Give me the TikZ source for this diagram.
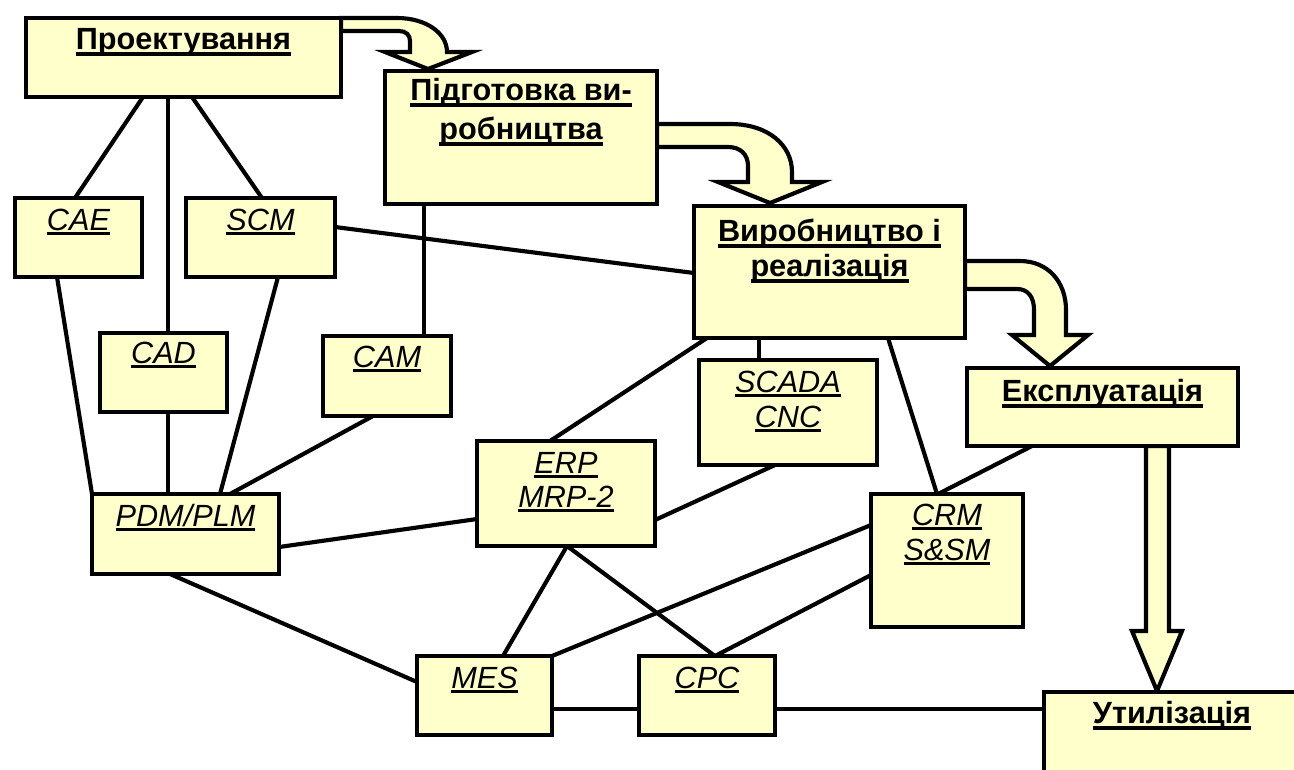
\documentclass[tikz,border=0pt]{standalone}
\usepackage{fontspec}
\setmainfont{Liberation Sans}
\usetikzlibrary{calc}
\definecolor{boxfill}{HTML}{FFFFCC}
\pgfdeclarelayer{background}
\pgfsetlayers{background,main}

% underlined words: thick rule for bold headings, thinner for italic labels
\newcommand\ulb[1]{\setbox0=\hbox{#1}\rlap{\rule[-5pt]{\wd0}{2.6pt}}\box0}
\newcommand\uli[1]{\setbox0=\hbox{#1}\rlap{\rule[-3.7pt]{\wd0}{2.2pt}}\box0}
% two centred lines, baseline of the node = baseline of the first line
\newcommand\twolines[3]{\vtop{\baselineskip=#1\lineskiplimit=-100pt\halign{\hfil##\hfil\cr#2\cr#3\cr}}}

\begin{document}
\begin{tikzpicture}[x=0.75pt,y=-0.75pt,
  box/.style={draw=black, fill=boxfill, line width=3.1pt, anchor=north west,
              outer sep=0pt, inner sep=0pt},
  conn/.style={line width=3.1pt},
  blk/.style={draw=black, fill=boxfill, line width=3.1pt, line join=miter},
  btxt/.style={font=\fontsize{23}{26}\selectfont\bfseries, anchor=base, inner sep=0pt},
  itxt/.style={font=\fontsize{23}{26}\selectfont\itshape, anchor=base, inner sep=0pt}]

\clip (0,0) rectangle (1294,769);

% life-cycle stages and information systems
\node[box, minimum width=315*0.75pt, minimum height=79*0.75pt]  (proj)  at (26,18)    {};
\node[box, minimum width=272*0.75pt, minimum height=133*0.75pt] (prep)  at (385,71)   {};
\node[box, minimum width=271*0.75pt, minimum height=132*0.75pt] (prod)  at (694,206)  {};
\node[box, minimum width=271*0.75pt, minimum height=78*0.75pt]  (expl)  at (967,368)  {};
\node[box, minimum width=256*0.75pt, minimum height=120*0.75pt] (util)  at (1044,692) {};
\node[box, minimum width=127*0.75pt, minimum height=79*0.75pt]  (cae)   at (15,198)   {};
\node[box, minimum width=149*0.75pt, minimum height=79*0.75pt]  (scm)   at (186,198)  {};
\node[box, minimum width=127*0.75pt, minimum height=79*0.75pt]  (cad)   at (100,333)  {};
\node[box, minimum width=128*0.75pt, minimum height=80*0.75pt]  (cam)   at (323,336)  {};
\node[box, minimum width=178*0.75pt, minimum height=105*0.75pt] (scada) at (699,360)  {};
\node[box, minimum width=178*0.75pt, minimum height=105*0.75pt] (erp)   at (477,441)  {};
\node[box, minimum width=187*0.75pt, minimum height=80*0.75pt]  (pdm)   at (92,494)   {};
\node[box, minimum width=152*0.75pt, minimum height=133*0.75pt] (crm)   at (871,494)  {};
\node[box, minimum width=135*0.75pt, minimum height=79*0.75pt]  (mes)   at (417,656)  {};
\node[box, minimum width=136*0.75pt, minimum height=79*0.75pt]  (cpc)   at (639,656)  {};

\begin{pgfonlayer}{background}
\fill[white] (0,0) rectangle (1294,769);

% block arrows between the stages
\draw[blk] (341,18) -- (397,18) .. controls (426,18) and (447,33) .. (447,52)
  -- (472,52) -- (428,69) -- (385,52) -- (410,52) -- (410,41)
  .. controls (410,35) and (406,31) .. (399,31) -- (341,31) -- cycle;
\draw[blk] (657,124) -- (730,124) .. controls (768,124) and (792,145) .. (792,172)
  -- (792,182) -- (822,182) -- (770,203) -- (718,182) -- (748,182) -- (748,166)
  .. controls (748,154) and (740,147) .. (728,147) -- (657,147) -- cycle;
\draw[blk] (965,261) -- (1020,261) .. controls (1048,261) and (1066,282) .. (1066,310)
  -- (1066,335) -- (1088,335) -- (1050,366) -- (1012,335) -- (1034,335) -- (1034,310)
  .. controls (1034,297) and (1028,289) .. (1017,289) -- (965,289) -- cycle;
\draw[blk] (1146,446) -- (1146,631) -- (1132,631) -- (1157,691) -- (1182,631)
  -- (1169,631) -- (1169,446) -- cycle;

% links
\draw[conn] ($(proj.south west)+(117,0)$) -- ($(cae.north west)+(60,0)$);
\draw[conn] ($(proj.south west)+(142,0)$) -- ($(cad.north west)+(68,0)$);
\draw[conn] ($(proj.south west)+(166,0)$) -- ($(scm.north west)+(76,0)$);
\draw[conn] ($(cae.south west)+(42,0)$) -- (pdm.north west);
\draw[conn] ($(cad.south west)+(68,0)$) -- ($(pdm.north west)+(76,0)$);
\draw[conn] ($(scm.south west)+(92,0)$) -- ($(pdm.north west)+(128,0)$);
\draw[conn] ($(cam.south west)+(50,0)$) -- ($(pdm.north west)+(138,0)$);
\draw[conn] ($(prep.south west)+(39,0)$) -- ($(cam.north west)+(101,0)$);
\draw[conn] ($(scm.north east)+(0,29)$) -- ($(prod.north west)+(0,67)$);
\draw[conn] ($(pdm.north east)+(0,53)$) -- ($(erp.north west)+(0,78)$);
\draw[conn] ($(pdm.south west)+(78,0)$) -- ($(mes.north west)+(0,26)$);
\draw[conn] ($(erp.north west)+(73,0)$) -- ($(prod.south west)+(13,0)$);
\draw[conn] ($(scada.north west)+(60,0)$) -- ($(prod.south west)+(65,0)$);
\draw[conn] ($(scada.south west)+(76,0)$) -- ($(erp.north east)+(0,79)$);
\draw[conn] ($(prod.south west)+(194,0)$) -- ($(crm.north west)+(66,0)$);
\draw[conn] ($(expl.south west)+(65,0)$) -- ($(crm.north west)+(67,0)$);
\draw[conn] ($(crm.north west)+(0,31)$) -- (mes.north east);
\draw[conn] ($(crm.north west)+(0,81)$) -- ($(cpc.north west)+(76,0)$);
\draw[conn] ($(erp.south west)+(90,0)$) -- ($(mes.north west)+(86,0)$);
\draw[conn] ($(erp.south west)+(90,0)$) -- ($(cpc.north west)+(76,0)$);
\draw[conn] ($(mes.north east)+(0,53)$) -- ($(cpc.north west)+(0,53)$);
\draw[conn] ($(cpc.north east)+(0,53)$) -- ($(util.north west)+(0,17)$);
\end{pgfonlayer}

% labels
\node[btxt] (projt)  at ($(proj.north)+(0,31)$) {\ulb{Проектування}};
\node[btxt] (prept)  at ($(prep.north)+(0,29)$) {\twolines{29.25pt}{\ulb{Підготовка ви-}}{\ulb{робництва}}};
\node[btxt] (prodt)  at ($(prod.north)+(0,35)$) {\twolines{26.25pt}{\ulb{Виробництво і}}{\ulb{реалізація}}};
\node[btxt] (explt)  at ($(expl.north)+(0,33)$) {\ulb{Експлуатація}};
\node[btxt] (utilt)  at ($(util.north)+(0,31)$) {\ulb{Утилізація}};
\node[itxt] (caet)   at ($(cae.north)+(0,32)$)  {\uli{CAE}};
\node[itxt] (scmt)   at ($(scm.north)+(0,32)$)  {\uli{SCM}};
\node[itxt] (cadt)   at ($(cad.north)+(0,30)$)  {\uli{CAD}};
\node[itxt] (camt)   at ($(cam.north)+(0,31)$)  {\uli{CAM}};
\node[itxt] (scadat) at ($(scada.north)+(0,32)$) {\twolines{26.25pt}{\uli{SCADA}}{\uli{CNC}}};
\node[itxt] (erpt)   at ($(erp.north)+(0,32)$)  {\twolines{25.5pt}{\uli{ERP}}{\uli{MRP-2}}};
\node[itxt] (pdmt)   at ($(pdm.north)+(0,32)$)  {\uli{PDM/PLM}};
\node[itxt] (crmt)   at ($(crm.north)+(0,31)$)  {\twolines{26.25pt}{\uli{CRM}}{\uli{S\&SM}}};
\node[itxt] (mest)   at ($(mes.north)+(0,32)$)  {\uli{MES}};
\node[itxt] (cpct)   at ($(cpc.north)+(0,32)$)  {\uli{CPC}};
\end{tikzpicture}
\end{document}
